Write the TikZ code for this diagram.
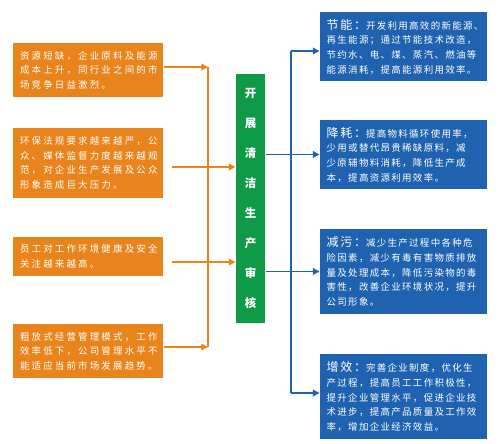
\documentclass[tikz,border=0pt]{standalone}
\usepackage{fontspec}
\setmainfont{Noto Sans CJK SC}
\newfontfamily\ofont[LetterSpace=23]{Noto Sans CJK SC}
\newfontfamily\bfont[LetterSpace=14]{Noto Sans CJK SC}
\usetikzlibrary{arrows.meta}
\definecolor{auditorange}{RGB}{233,132,28}
\definecolor{auditblue}{RGB}{31,99,176}
\definecolor{auditgreen}{RGB}{14,154,71}
\newcommand{\btitle}[1]{{\fontsize{9}{11}\selectfont #1}}
\tikzset{every picture/.style={line width=0.75pt}}

\begin{document}
\begin{tikzpicture}[x=0.75pt,y=0.75pt,yscale=-1,xscale=1,
  obox/.style={fill=auditorange, text=white, inner xsep=5.25pt, inner ysep=0pt, text width=102pt, align=left, font=\ofont\fontsize{7.1}{10.9}\selectfont},
  bbox/.style={fill=auditblue, text=white, inner xsep=5pt, inner ysep=0pt, text width=115.25pt, align=left, font=\bfont\fontsize{7.1}{11}\selectfont},
  gbox/.style={fill=auditgreen, text=white, inner sep=0pt, minimum width=21.75pt, minimum height=186.75pt, align=center, font=\bfseries\fontsize{8.6}{22.5}\selectfont},
  oline/.style={draw=auditorange, line width=1.2pt},
  bline/.style={draw=auditblue, line width=1.2pt},
  tip/.style={-{Triangle[length=5pt,width=5pt]}}]
\useasboundingbox (0,0) rectangle (500,443);

% left: reasons
\node[obox, minimum height=40.5pt] (o1) at (88,70) {资源短缺，企业原料及能源\\成本上升，同行业之间的市\\场竞争日益激烈。};
\node[obox, minimum height=52.5pt] (o2) at (88,163) {环保法规要求越来越严，公\\众、媒体监督力度越来越规\\范，对企业生产发展及公众\\形象造成巨大压力。};
\node[obox, minimum height=29.25pt] (o3) at (88,256.5) {员工对工作环境健康及安全\\关注越来越高。};
\node[obox, minimum height=40.5pt] (o4) at (88,351) {粗放式经营管理模式，工作\\效率低下，公司管理水平不\\能适应当前市场发展趋势。};

% centre
\node[gbox] (g) at (250.5,198.5) {开\\展\\清\\洁\\生\\产\\审\\核};

% right: goals
\node[bbox, minimum height=51.75pt] (b1) at (403.5,46.5) {\btitle{节能：}开发利用高效的新能源、\\再生能源；通过节能技术改造，\\节约水、电、煤、蒸汽、燃油等\\能源消耗，提高能源利用效率。};
\node[bbox, minimum height=51.75pt] (b2) at (403.5,154.5) {\btitle{降耗：}提高物料循环使用率，\\少用或替代昂贵稀缺原料，减\\少原辅物料消耗，降低生产成\\本，提高资源利用效率。};
\node[bbox, minimum height=63.75pt] (b3) at (403.5,271.5) {\btitle{减污：}减少生产过程中各种危\\险因素，减少有毒有害物质排放\\量及处理成本，降低污染物的毒\\害性，改善企业环境状况，提升\\公司形象。};
\node[bbox, minimum height=63.75pt] (b4) at (403.5,396.5) {\btitle{增效：}完善企业制度，优化生\\产过程，提高员工工作积极性，\\提升企业管理水平，促进企业技\\术进步，提高产品质量及工作效\\率，增加企业经济效益。};

% orange connectors
\coordinate (ot) at (208,67);
\coordinate (ob) at (208,347);
\coordinate (m2) at (172,167);
\coordinate (m3) at (172,262);
\draw[oline] (ot) -- (ob);
\draw[oline, tip] (o1.east |- ot) -- (ot);
\draw[oline, tip] (o4.east |- ob) -- (ob);
\draw[oline, tip] (m2) -- (m2 -| g.west);
\draw[oline, tip] (m3) -- (m3 -| g.west);

% blue connectors
\coordinate (bt) at (291,51);
\coordinate (bb) at (291,393);
\draw[bline] (bt) -- (bb);
\draw[bline, tip] (bt) -- (bt -| b1.west);
\draw[bline, tip] (bb) -- (bb -| b4.west);
\draw[bline, tip] (g.east |- b2.west) -- (b2.west);
\draw[bline, tip] (g.east |- b3.west) -- (b3.west);

\end{tikzpicture}
\end{document}
